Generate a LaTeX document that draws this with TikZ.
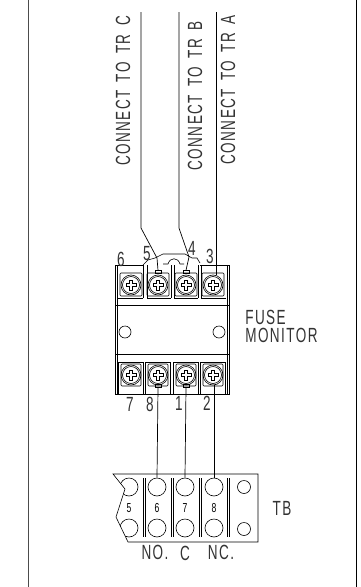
\documentclass[tikz,border=0pt]{standalone}
\usepackage{fontspec}
\newfontfamily\cadfont[FakeStretch=0.66,LetterSpace=7,WordSpace=1.6]{Liberation Sans}
\tikzset{
  wire/.style={line width=0.7pt},
  hole/.style={draw, circle, inner sep=0pt, line width=0.6pt},
  tab/.style={draw, rectangle, inner sep=0pt, minimum width=6pt, minimum height=3pt, line width=0.5pt},
  caption/.style={font=\cadfont\fontsize{20.5}{18}\selectfont, text=black!80, inner sep=0pt},
  pinlabel/.style={font=\cadfont\fontsize{20.5}{21}\selectfont, text=black!80, inner sep=0pt},
  tblabel/.style={font=\cadfont\fontsize{13}{13}\selectfont, inner sep=0pt},
}
\begin{document}
\begin{tikzpicture}[x=1pt, y=-1pt, line width=0.6pt]
\useasboundingbox (0,0) rectangle (360,587);
% frame
\draw [line width=1pt, black!70] (28,0) -- (28,587);
\draw [line width=1pt] (356,0) -- (356,587);
% monitor body
\draw (115,265) -- (115,394) -- (229,394) -- (229,265);
\draw (117,265) -- (117,394);
\draw (227,265) -- (227,394);
\draw (115,265) -- (143,265);
\draw (200,265) -- (229,265);
\draw [line width=0.9pt] (115,305) -- (229,305);
\draw [line width=0.9pt] (115,354) -- (229,354);
\node [hole, minimum size=12pt] (holeL) at (125,332) {};
\node [hole, minimum size=12pt] (holeR) at (219,332) {};
% bridge over terminals
\draw (143,265) -- (148,260) -- (155,258) -- (163,254) -- (185,254) -- (192,258) -- (197,258) -- (200,263);
\draw (163,264) -- (168,264) .. controls (170,257) and (178,257) .. (180,264) -- (184,264);
% terminal walls
\foreach \x in {143, 147, 171, 174, 198, 201} {
  \draw (\x,265) -- (\x,298);
}
\draw (118,298) -- (143,298);
\draw (147,298) -- (171,298);
\draw (174,298) -- (198,298);
\draw (201,298) -- (226,298);
\foreach \x/\n [count=\i] in {131/6, 158/5, 186/4, 213/3} {
  \draw [rounded corners=1pt] (\x-11,273) rectangle (\x+11,296);
  \node [hole, minimum size=20pt] (screw\n) at (\x,285) {};
  \node [hole, minimum size=17pt] at (\x,285) {};
  \draw [line width=0.5pt] (\x-1.7,280.2) -- ++(3.4,0) -- ++(0,3.1) -- ++(3.1,0) -- ++(0,3.4) -- ++(-3.1,0) -- ++(0,3.1) -- ++(-3.4,0) -- ++(0,-3.1) -- ++(-3.1,0) -- ++(0,-3.4) -- ++(3.1,0) -- cycle;
}
\foreach \x/\n [count=\i] in {131/7, 158/8, 186/1, 213/2} {
  \draw (\x-13,394) -- (\x-13,362) -- (\x+12,362) -- (\x+12,394);
  \draw [rounded corners=1pt] (\x-10,364) rectangle (\x+10,386);
  \node [hole, minimum size=20pt] (screw\n) at (\x,375) {};
  \node [hole, minimum size=17pt] at (\x,375) {};
  \draw [line width=0.5pt] (\x-1.7,370.2) -- ++(3.4,0) -- ++(0,3.1) -- ++(3.1,0) -- ++(0,3.4) -- ++(-3.1,0) -- ++(0,3.1) -- ++(-3.4,0) -- ++(0,-3.1) -- ++(-3.1,0) -- ++(0,-3.4) -- ++(3.1,0) -- cycle;
}
\node [tab] (tabC) at (158,272) {};
\node [tab] (tabB) at (186,272) {};
\node [tab] (tabE) at (158,386) {};
\node [tab] (tabF) at (186,386) {};
% pin numbers
\node [pinlabel] (pin6) at (121,259) {6};
\node [pinlabel] (pin5) at (147,254) {5};
\node [pinlabel] (pin4) at (192,248) {4};
\node [pinlabel] (pin3) at (210,256) {3};
\node [pinlabel] (pin7) at (130,404) {7};
\node [pinlabel] (pin8) at (150,404) {8};
\node [pinlabel] (pin1) at (179,403) {1};
\node [pinlabel] (pin2) at (207,403) {2};
% incoming wires
\coordinate (feedC) at (141,12);
\coordinate (feedB) at (179,12);
\coordinate (feedA) at (216,12);
\draw [wire] (feedC) -- ++(0,216) -- (157,258) -- (tabC.north);
\draw [wire] (feedB) -- ++(0,216) -- (189,257) -- (tabB.north);
\draw [wire] (feedA) -- (feedA |- screw3.north);
\node [caption, rotate=90] (lblC) at (123,91) {CONNECT TO TR C};
\node [caption, rotate=90] (lblB) at (195,96) {CONNECT TO TR B};
\node [caption, rotate=90] (lblA) at (228,90) {CONNECT TO TR A};
\node [caption, anchor=west, align=left] (lblFuse) at (245,326) {FUSE\\MONITOR};
% terminal block
\foreach \x/\n in {129/5, 157/6, 185/7, 214/8} {
  \node [hole, minimum size=18pt] (tbtop\n) at (\x,487) {};
  \node [hole, minimum size=18pt] (tbbot\n) at (\x,528) {};
  \node [tblabel] (tbnum\n) at (\x,508) {\n};
}
\foreach \x in {143, 171, 199, 227} {
  \draw (\x,478) -- (\x,537);
  \draw (\x+2.2,478) -- (\x+2.2,537);
}
\node [hole, minimum size=13pt] (tbholeT) at (244,487) {};
\node [hole, minimum size=13pt] (tbholeB) at (244,529) {};
\fill [white] (105,470) -- (113,474) -- (125,489) -- (116,517) -- (128,542) -- (105,545) -- cycle;
\draw (128,542) -- (116,517) -- (125,489) -- (113,474) -- (258,474) -- (258,542) -- cycle;
\draw [wire] (tabE.south) -- (tbtop6.north);
\draw [wire] (tabF.south) -- (tbtop7.north);
\draw [wire] (tbtop8.north) -- (tbtop8.north |- screw2.south);
\node [caption] (lblNO) at (155,552) {NO.};
\node [caption] (lblC2) at (185,553) {C};
\node [caption] (lblNC) at (221,552) {NC.};
\node [caption] (lblTB) at (282,508) {TB};
\end{tikzpicture}
\end{document}
